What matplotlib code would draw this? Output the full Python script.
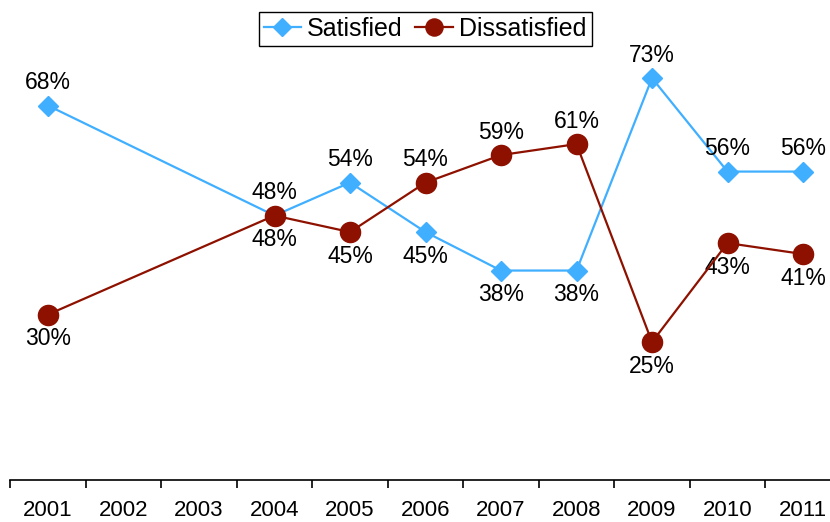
import numpy as np
import matplotlib
matplotlib.use("Agg")
import matplotlib.pyplot as plt

plt.rcParams['font.family'] = ['Liberation Sans', 'DejaVu Sans']

# survey results by year (no survey in 2002 and 2003)
years = ['2001', '2002', '2003', '2004', '2005', '2006', '2007', '2008', '2009', '2010', '2011']
satisfied = [68, np.nan, np.nan, 48, 54, 45, 38, 38, 73, 56, 56]
dissatisfied = [30, np.nan, np.nan, 48, 45, 54, 59, 61, 25, 43, 41]

blue = '#40AFFF'
red = '#8E1100'

fig = plt.figure(figsize=(8.3, 5.22), dpi=100)
ax = fig.add_axes([10.25 / 830, 42.5 / 522, 830.5 / 830, 479.5 / 522])

x = np.arange(len(years))
sat = np.array(satisfied)
dis = np.array(dissatisfied)
ms = ~np.isnan(sat)
md = ~np.isnan(dis)

ax.plot(x[ms], sat[ms], color=blue, lw=1.6, marker='D', ms=10.5,
        label='Satisfied', zorder=3, clip_on=False)
ax.plot(x[md], dis[md], color=red, lw=1.6, marker='o', ms=14.5,
        label='Dissatisfied', zorder=4, clip_on=False)

# value labels: higher value above its point, lower one below
for i in x:
    if np.isnan(sat[i]):
        continue
    up = sat[i] >= dis[i]
    ax.annotate(f'{sat[i]:.0f}%', (i, sat[i]), xytext=(0, 16.5 if up else -17.5),
                textcoords='offset points', ha='center', va='center',
                fontsize=16.5, annotation_clip=False)
    ax.annotate(f'{dis[i]:.0f}%', (i, dis[i]), xytext=(0, -17.5 if up else 16.5),
                textcoords='offset points', ha='center', va='center',
                fontsize=16.5, annotation_clip=False)

ax.set_xlim(-0.5, len(years) - 0.5)
ax.set_ylim(0, 87.2)
for s in ['top', 'right', 'left']:
    ax.spines[s].set_visible(False)
ax.spines['bottom'].set_linewidth(1.2)
ax.set_yticks([])
ax.set_xticks(x)
ax.set_xticklabels(years, fontsize=16)
ax.tick_params(axis='x', which='major', length=0, pad=15)
ax.set_xticks(np.arange(-0.5, len(years)), minor=True)
ax.tick_params(axis='x', which='minor', length=6, width=1.2, direction='out')

leg = fig.legend(loc='upper center', bbox_to_anchor=(425 / 830, 1 - 12 / 522), ncol=2,
                 fontsize=18, frameon=True, fancybox=False, edgecolor='black',
                 framealpha=1, handlelength=1.5, handletextpad=0.25, columnspacing=0.5,
                 borderpad=0.2, borderaxespad=0, markerscale=0.85)
leg.get_frame().set_linewidth(1.0)

fig.savefig('out.png', dpi=100)
